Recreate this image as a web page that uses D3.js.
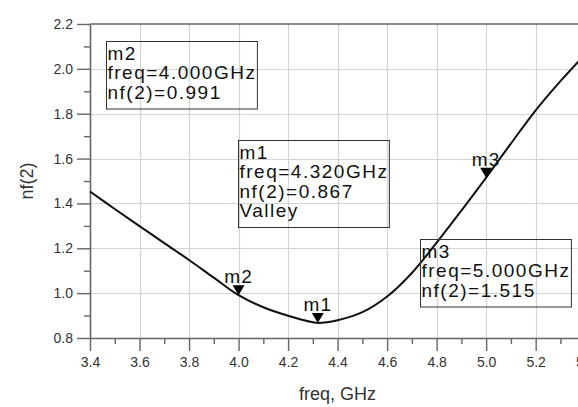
<!DOCTYPE html>
<html>
<head>
<meta charset="utf-8">
<script src="https://cdn.jsdelivr.net/npm/d3@7"></script>
<style>
  body { margin: 0; background: #fff; overflow: hidden; }
  svg { display: block; font-family: "Liberation Sans", Arial, sans-serif; }
</style>
</head>
<body>
<svg id="chart" width="578" height="407"></svg>
<script>
// noise figure trace
var freq = [3.4, 3.5, 3.6, 3.7, 3.8, 3.9, 4.0, 4.1, 4.2, 4.3, 4.32, 4.4, 4.5, 4.6, 4.7, 4.8, 4.9, 5.0, 5.1, 5.2, 5.3, 5.4];
var nf   = [1.453, 1.375, 1.299, 1.223, 1.148, 1.069, 0.991, 0.937, 0.899, 0.870, 0.867, 0.879, 0.915, 0.985, 1.090, 1.225, 1.368, 1.515, 1.667, 1.815, 1.945, 2.065];

// markers
var markerNames = ["m1", "m2", "m3"];
var markerFreq  = [4.320, 4.000, 5.000];
var markerNf    = [0.867, 0.991, 1.515];
var markerExtra = ["Valley", null, null];

// readout box placement (top-left corner, px)
var boxPos = [[238.5, 140.5], [106.5, 41.5], [420.5, 239.5]];

var xTicks = [3.4, 3.6, 3.8, 4.0, 4.2, 4.4, 4.6, 4.8, 5.0, 5.2, 5.4];
var yTicks = [0.8, 1.0, 1.2, 1.4, 1.6, 1.8, 2.0, 2.2];

var svg = d3.select("#chart");

var pL = 90, pR = 585.2, pT = 24, pB = 338;

var x = d3.scaleLinear().domain([3.4, 5.4]).range([pL, pR]);
var y = d3.scaleLinear().domain([0.8, 2.2]).range([pB, pT]);

var fmt = d3.format(".1f");

// grid
svg.append("g").selectAll("line")
  .data(xTicks.slice(1)).enter().append("line")
  .attr("x1", function(d) { return Math.round(x(d)) + 0.5; })
  .attr("x2", function(d) { return Math.round(x(d)) + 0.5; })
  .attr("y1", pT).attr("y2", pB)
  .attr("stroke", "#d4d4d4").attr("stroke-width", 1.2);

svg.append("g").selectAll("line")
  .data(yTicks.slice(1, -1)).enter().append("line")
  .attr("y1", function(d) { return Math.round(y(d)) + 0.5; })
  .attr("y2", function(d) { return Math.round(y(d)) + 0.5; })
  .attr("x1", pL).attr("x2", pR)
  .attr("stroke", "#d4d4d4").attr("stroke-width", 1.2);

// minor ticks
var xMinor = d3.range(3.5, 5.41, 0.2);
var yMinor = d3.range(0.9, 2.2, 0.2);

var gx = svg.append("g").attr("transform", "translate(0," + pB + ")");
gx.call(d3.axisBottom(x).tickValues(xMinor).tickSize(6).tickSizeOuter(0).tickFormat(""));
gx.select(".domain").remove();
var gx2 = svg.append("g").attr("transform", "translate(0," + pB + ")");
gx2.call(d3.axisBottom(x).tickValues(xTicks).tickSize(13).tickPadding(6).tickSizeOuter(0).tickFormat(fmt));

var gy = svg.append("g").attr("transform", "translate(" + pL + ",0)");
gy.call(d3.axisLeft(y).tickValues(yMinor).tickSize(6).tickSizeOuter(0).tickFormat(""));
gy.select(".domain").remove();
var gy2 = svg.append("g").attr("transform", "translate(" + pL + ",0)");
gy2.call(d3.axisLeft(y).tickValues(yTicks).tickSize(13).tickPadding(4).tickSizeOuter(0).tickFormat(fmt));

svg.selectAll(".tick line").attr("stroke", "#666").attr("stroke-width", 1.4);
svg.selectAll(".domain").attr("stroke", "#666").attr("stroke-width", 1.6);
svg.selectAll(".tick text").attr("fill", "#333").style("font-size", "14px")
  .style("font-family", "'Liberation Sans', Arial, sans-serif");

// top border
svg.append("line")
  .attr("x1", pL).attr("x2", pR)
  .attr("y1", pT).attr("y2", pT)
  .attr("stroke", "#666").attr("stroke-width", 1.6);

// axis titles
svg.append("text")
  .attr("x", (pL + pR) / 2).attr("y", 400)
  .attr("text-anchor", "middle")
  .style("font-size", "18px").attr("fill", "#333")
  .text("freq, GHz");

svg.append("text")
  .attr("transform", "translate(33," + ((pT + pB) / 2) + ") rotate(-90)")
  .attr("text-anchor", "middle")
  .style("font-size", "18px").attr("fill", "#333")
  .text("nf(2)");

// trace
var pts = freq.map(function(f, i) { return [f, nf[i]]; });
var line = d3.line()
  .x(function(d) { return x(d[0]); })
  .y(function(d) { return y(d[1]); })
  .curve(d3.curveCatmullRom.alpha(0.5));

svg.append("path")
  .datum(pts)
  .attr("d", line)
  .attr("fill", "none")
  .attr("stroke", "#111")
  .attr("stroke-width", 2);

// marker triangles + labels
markerNames.forEach(function(name, i) {
  var px = x(markerFreq[i]), py = y(markerNf[i]);
  svg.append("path")
    .attr("d", "M" + (px - 6) + "," + (py - 10) + "L" + (px + 6) + "," + (py - 10) + "L" + px + "," + py + "Z")
    .attr("fill", "#000");
  svg.append("text")
    .attr("x", px).attr("y", py - 12)
    .attr("text-anchor", "middle")
    .style("font-size", "19px").style("letter-spacing", "1.2px")
    .attr("fill", "#111")
    .text(name);
});

// readout boxes
markerNames.forEach(function(name, i) {
  var lines = [name,
    "freq=" + markerFreq[i].toFixed(3) + "GHz",
    "nf(2)=" + markerNf[i].toFixed(3)];
  if (markerExtra[i]) lines.push(markerExtra[i]);
  var bx = boxPos[i][0], by = boxPos[i][1];
  var g = svg.append("g");
  var rect = g.append("rect")
    .attr("x", bx).attr("y", by)
    .attr("fill", "none")
    .attr("stroke", "#333").attr("stroke-width", 1);
  var t = g.append("text")
    .style("font-size", "19px").style("letter-spacing", "1.5px")
    .attr("fill", "#111");
  lines.forEach(function(s, k) {
    t.append("tspan").attr("x", bx + 1).attr("y", by + 18 + k * 19.5).text(s);
  });
  var bb = t.node().getBBox();
  rect.attr("width", bb.x + bb.width - bx + 1)
    .attr("height", lines.length * 19.5 + 9);
});
</script>
</body>
</html>
